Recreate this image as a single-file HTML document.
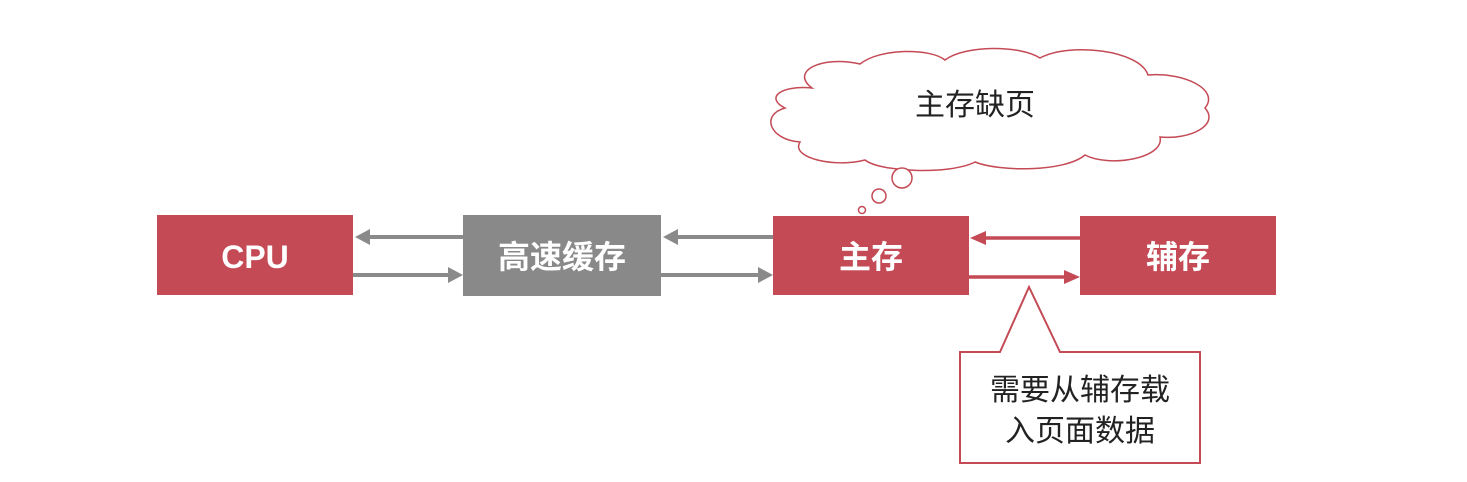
<!DOCTYPE html>
<html><head><meta charset="utf-8"><style>
html,body{margin:0;padding:0;background:#fff;}
svg{display:block}
text{font-family:"Liberation Sans","Noto Sans CJK SC",sans-serif;}
</style></head><body>
<svg width="1467" height="482" viewBox="0 0 1467 482" xmlns="http://www.w3.org/2000/svg">
<rect x="157" y="215" width="196" height="80" fill="#c44a55"/>
<rect x="463" y="215" width="198" height="81" fill="#898989"/>
<rect x="773" y="216" width="196" height="79" fill="#c44a55"/>
<rect x="1080" y="216" width="196" height="79" fill="#c44a55"/>
<text x="255" y="268" font-size="32" font-weight="bold" fill="#fff" text-anchor="middle">CPU</text>
<text x="562" y="268" font-size="32" font-weight="bold" fill="#fff" text-anchor="middle">高速缓存</text>
<text x="871" y="268" font-size="32" font-weight="bold" fill="#fff" text-anchor="middle">主存</text>
<text x="1178" y="268" font-size="32" font-weight="bold" fill="#fff" text-anchor="middle">辅存</text>
<g stroke="#8a8a8a" stroke-width="4">
<line x1="463" y1="237" x2="368" y2="237"/>
<line x1="353" y1="275" x2="450" y2="275"/>
<line x1="773" y1="237" x2="676" y2="237"/>
<line x1="661" y1="275" x2="760" y2="275"/>
</g>
<g fill="#8a8a8a">
<polygon points="355,237 370,229 370,245"/>
<polygon points="463,275 448,267 448,283"/>
<polygon points="663,237 678,229 678,245"/>
<polygon points="773,275 758,267 758,283"/>
</g>
<g stroke="#c44a55" stroke-width="3.5">
<line x1="1080" y1="238" x2="984" y2="238"/>
<line x1="969" y1="277" x2="1066" y2="277"/>
</g>
<g fill="#c44a55">
<polygon points="970,238 986,231 986,245"/>
<polygon points="1080,277 1064,270 1064,284"/>
</g>
<path d="M960,352 L1000,352 L1029,287 L1060,352 L1200,352 L1200,463 L960,463 Z" fill="#fff" stroke="#c44a55" stroke-width="2"/>
<text x="1080" y="400" font-size="30" fill="#222" text-anchor="middle">需要从辅存载</text>
<text x="1080" y="441" font-size="30" fill="#222" text-anchor="middle">入页面数据</text>
<path d="M812,88 C790,72 820,55 860,64 C880,48 930,48 945,60 C965,45 1020,45 1040,58 C1070,42 1140,50 1148,75 C1185,72 1220,90 1205,108 C1220,125 1190,140 1160,137 C1165,158 1110,168 1085,155 C1065,172 1000,172 975,162 C950,175 880,172 865,160 C835,168 790,158 800,142 C770,140 760,115 785,108 C765,98 780,85 812,88 Z" fill="#fff" stroke="#c44a55" stroke-width="1.5"/>
<circle cx="902" cy="178" r="10" fill="#fff" stroke="#c44a55" stroke-width="1.5"/>
<circle cx="879" cy="196" r="7" fill="#fff" stroke="#c44a55" stroke-width="1.5"/>
<circle cx="862" cy="210" r="3.5" fill="#fff" stroke="#c44a55" stroke-width="1.5"/>
<text x="975" y="115" font-size="30" fill="#222" text-anchor="middle">主存缺页</text>
</svg>
</body></html>
